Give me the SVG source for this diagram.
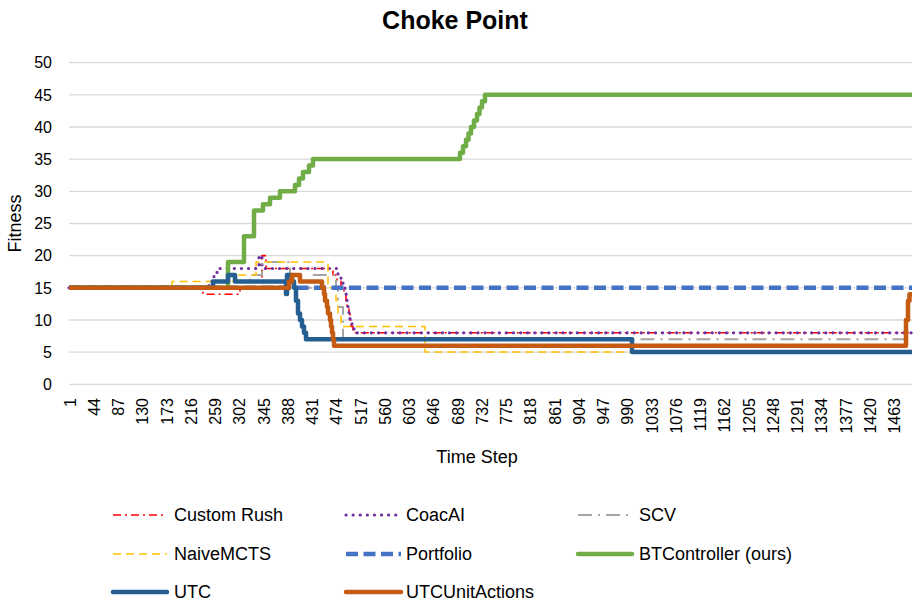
<svg xmlns="http://www.w3.org/2000/svg" width="916" height="603" viewBox="0 0 916 603">
  <style>
    text { font-family: "Liberation Sans", Arial, sans-serif; fill: #000; }
    .title { font-size: 25px; font-weight: bold; }
    .tick { font-size: 16px; }
    .axis { font-size: 18px; }
    .leg { font-size: 18px; }
    .grid { stroke: #D9D9D9; stroke-width: 1.3; fill: none; }
    .s { fill: none; stroke-linejoin: round; }
    .rush { stroke: #FF0000; stroke-width: 1.6; stroke-dasharray: 8 4 2 4; }
    .coac { stroke: #7030A0; stroke-width: 3.2; stroke-linecap: round; stroke-dasharray: 0.1 7; }
    .scv { stroke: #A5A5A5; stroke-width: 2; stroke-dasharray: 14 6 2 6; }
    .naive { stroke: #FFC000; stroke-width: 1.5; stroke-dasharray: 8 5; }
    .port { stroke: #4472C4; stroke-width: 4.5; stroke-dasharray: 12 5.5; }
    .bt { stroke: #70AD47; stroke-width: 4.5; }
    .utc { stroke: #255E91; stroke-width: 4.5; }
    .ua { stroke: #C55A11; stroke-width: 4.5; }
  </style>
  <rect width="916" height="603" fill="#FFFFFF"/>

  <text class="title" x="455" y="29" text-anchor="middle">Choke Point</text>

  <!-- horizontal gridlines, every 5 units -->
  <g id="gridlines">
    <line class="grid" x1="69" y1="62.6" x2="912" y2="62.6"/>
    <line class="grid" x1="69" y1="94.8" x2="912" y2="94.8"/>
    <line class="grid" x1="69" y1="127" x2="912" y2="127"/>
    <line class="grid" x1="69" y1="159.1" x2="912" y2="159.1"/>
    <line class="grid" x1="69" y1="191.3" x2="912" y2="191.3"/>
    <line class="grid" x1="69" y1="223.5" x2="912" y2="223.5"/>
    <line class="grid" x1="69" y1="255.6" x2="912" y2="255.6"/>
    <line class="grid" x1="69" y1="287.8" x2="912" y2="287.8"/>
    <line class="grid" x1="69" y1="320" x2="912" y2="320"/>
    <line class="grid" x1="69" y1="352.1" x2="912" y2="352.1"/>
    <line class="grid" x1="69" y1="384.3" x2="912" y2="384.3"/>
  </g>

  <!-- y axis labels -->
  <g id="y-labels" class="tick" text-anchor="end">
    <text x="52" y="68.3">50</text>
    <text x="52" y="100.5">45</text>
    <text x="52" y="132.7">40</text>
    <text x="52" y="164.8">35</text>
    <text x="52" y="197">30</text>
    <text x="52" y="229.2">25</text>
    <text x="52" y="261.3">20</text>
    <text x="52" y="293.5">15</text>
    <text x="52" y="325.7">10</text>
    <text x="52" y="357.8">5</text>
    <text x="52" y="390">0</text>
  </g>

  <!-- x axis labels (rotated) -->
  <g id="x-labels" class="tick" text-anchor="end">
    <text transform="translate(75.7,398) rotate(-90)">1</text>
    <text transform="translate(99.95,398) rotate(-90)">44</text>
    <text transform="translate(124.2,398) rotate(-90)">87</text>
    <text transform="translate(148.45,398) rotate(-90)">130</text>
    <text transform="translate(172.7,398) rotate(-90)">173</text>
    <text transform="translate(196.95,398) rotate(-90)">216</text>
    <text transform="translate(221.2,398) rotate(-90)">259</text>
    <text transform="translate(245.45,398) rotate(-90)">302</text>
    <text transform="translate(269.7,398) rotate(-90)">345</text>
    <text transform="translate(293.95,398) rotate(-90)">388</text>
    <text transform="translate(318.2,398) rotate(-90)">431</text>
    <text transform="translate(342.45,398) rotate(-90)">474</text>
    <text transform="translate(366.7,398) rotate(-90)">517</text>
    <text transform="translate(390.95,398) rotate(-90)">560</text>
    <text transform="translate(415.2,398) rotate(-90)">603</text>
    <text transform="translate(439.45,398) rotate(-90)">646</text>
    <text transform="translate(463.7,398) rotate(-90)">689</text>
    <text transform="translate(487.95,398) rotate(-90)">732</text>
    <text transform="translate(512.2,398) rotate(-90)">775</text>
    <text transform="translate(536.45,398) rotate(-90)">818</text>
    <text transform="translate(560.7,398) rotate(-90)">861</text>
    <text transform="translate(584.95,398) rotate(-90)">904</text>
    <text transform="translate(609.2,398) rotate(-90)">947</text>
    <text transform="translate(633.45,398) rotate(-90)">990</text>
    <text transform="translate(657.7,398) rotate(-90)">1033</text>
    <text transform="translate(681.95,398) rotate(-90)">1076</text>
    <text transform="translate(706.2,398) rotate(-90)">1119</text>
    <text transform="translate(730.45,398) rotate(-90)">1162</text>
    <text transform="translate(754.7,398) rotate(-90)">1205</text>
    <text transform="translate(778.95,398) rotate(-90)">1248</text>
    <text transform="translate(803.2,398) rotate(-90)">1291</text>
    <text transform="translate(827.45,398) rotate(-90)">1334</text>
    <text transform="translate(851.7,398) rotate(-90)">1377</text>
    <text transform="translate(875.95,398) rotate(-90)">1420</text>
    <text transform="translate(900.2,398) rotate(-90)">1463</text>
  </g>

  <text class="axis" x="477" y="463" text-anchor="middle">Time Step</text>
  <text class="axis" transform="translate(21,223.5) rotate(-90)" text-anchor="middle">Fitness</text>

  <!-- data series, drawn in legend order -->
  <g id="series">
    <path id="custom-rush" class="s rush" d="M69,287.8 H203 V294.2 H240 V287.8 H262 V255.6 H266 V268.5 H333 V275 H337 V281.4 H341 V287.8 H344 V294.2 H346 V300.7 H347 V307 H349 V313.6 H350 V320 H351 V326.4 H353 V332.8 H912"/>
    <path id="coacai" class="s coac" d="M69,287.8 H209 V281.4 H214 V275 H217 V268.5 H259 V255.6 H262 V268.5 H338 V275 H341 V281.4 H343 V287.8 H345 V294.2 H347 V300.7 H348 V307 H349 V313.6 H350 V320 H352 V326.4 H354 V332.8 H912"/>
    <path id="scv" class="s scv" d="M69,287.8 H250 V275 H262 V262.1 H290 V287.8 H312 V275 H336 V287.8 H338 V307 H343 V339.3 H912"/>
    <path id="naivemcts" class="s naive" d="M69,287.8 H172 V281.4 H237 V275 H256 V262.1 H328 V287.8 H336 V300.7 H338 V313.6 H341 V326.4 H425 V352.1 H912"/>
    <path id="portfolio" class="s port" d="M69,287.8 H912"/>
    <path id="btcontroller" class="s bt" d="M69,287.8 H228 V262.1 H244 V236.3 H254 V210.6 H263 V204.2 H270 V197.7 H280 V191.3 H295 V184.9 H299 V178.4 H303 V172 H309 V165.5 H313 V159.1 H460 V152.7 H463 V146.2 H466 V139.8 H468.5 V133.4 H471 V126.9 H474 V120.5 H477 V114.1 H479.5 V107.6 H482 V101.2 H485 V94.8 H912"/>
    <path id="utc" class="s utc" d="M69,287.8 H213 V281.4 H228 V275 H235 V281.4 H286 V294 H287 V275 H292 V281.4 H294 V287.8 H296 V300.7 H298 V313.6 H300 V320 H302 V326.4 H304 V332.8 H306 V339.3 H632 V352.1 H912"/>
    <path id="utcunitactions" class="s ua" d="M69,287.8 H289 V281.4 H292 V275 H300 V281.4 H322 V287.8 H324 V294 H325 V300.7 H327 V307 H328 V313.6 H330 V320 H331 V326.4 H332 V332.8 H333 V339.3 H334 V345.7 H906 V320 H908 V300.7 H909.5 V294.2 H912"/>
  </g>

  <!-- legend -->
  <g id="legend">
    <g id="leg-custom-rush">
      <line class="s rush" x1="113" y1="515" x2="167" y2="515"/>
      <text class="leg" x="174" y="521">Custom Rush</text>
    </g>
    <g id="leg-coacai">
      <line class="s coac" x1="346" y1="515" x2="396" y2="515"/>
      <text class="leg" x="406" y="521">CoacAI</text>
    </g>
    <g id="leg-scv">
      <line class="s scv" x1="578" y1="515" x2="632" y2="515"/>
      <text class="leg" x="639" y="521">SCV</text>
    </g>
    <g id="leg-naivemcts">
      <line class="s naive" x1="113" y1="554" x2="167" y2="554"/>
      <text class="leg" x="174" y="560">NaiveMCTS</text>
    </g>
    <g id="leg-portfolio">
      <line class="s port" x1="346" y1="554" x2="401" y2="554"/>
      <text class="leg" x="406" y="560">Portfolio</text>
    </g>
    <g id="leg-btcontroller">
      <line class="s bt" x1="578" y1="554" x2="632" y2="554" stroke-linecap="round"/>
      <text class="leg" x="639" y="560">BTController (ours)</text>
    </g>
    <g id="leg-utc">
      <line class="s utc" x1="113" y1="592" x2="167" y2="592" stroke-linecap="round"/>
      <text class="leg" x="174" y="598">UTC</text>
    </g>
    <g id="leg-utcunitactions">
      <line class="s ua" x1="346" y1="592" x2="401" y2="592" stroke-linecap="round"/>
      <text class="leg" x="406" y="598">UTCUnitActions</text>
    </g>
  </g>
</svg>
